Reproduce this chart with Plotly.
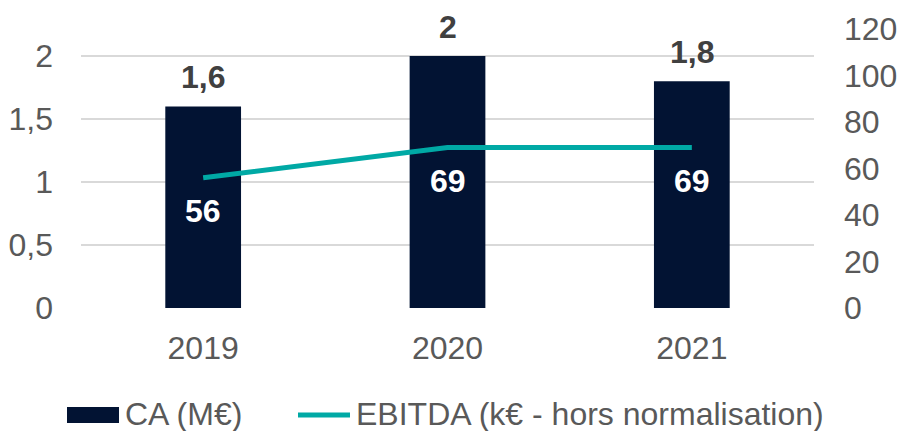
import plotly.graph_objects as go

years = ["2019", "2020", "2021"]
ca_values = [1.6, 2.0, 1.8]
ca_labels = ["1,6", "2", "1,8"]
ebitda_values = [56, 69, 69]
ebitda_labels = ["56", "69", "69"]
left_ticks = [0, 0.5, 1, 1.5, 2]
left_tick_text = ["0", "0,5", "1", "1,5", "2"]
right_ticks = [0, 20, 40, 60, 80, 100, 120]
ca_name = "CA (M€)"
ebitda_name = "EBITDA (k€ - hors normalisation)"

NAVY = "#021333"
TEAL = "#00A9A5"
GREY = "#595959"
FONT = "Liberation Sans, Arial, sans-serif"
FS = 32

W, H = 899, 431
# plot area in pixels
SX0, SX1, SY0, SY1 = 81, 814, 29, 308
L, R, T, B = SX0, W - SX1, SY0, H - SY1
PW, PH = SX1 - SX0, SY1 - SY0


def px(x):
    return (x - SX0) / PW


def py(y):
    return (SY1 - y) / PH


fig = go.Figure()
fig.add_trace(go.Bar(
    x=years, y=ca_values, name=ca_name,
    marker=dict(color=NAVY, line=dict(width=0)),
    width=0.31, yaxis="y", showlegend=False,
))
fig.add_trace(go.Scatter(
    x=years, y=ebitda_values, name=ebitda_name,
    mode="lines", line=dict(color=TEAL, width=5), yaxis="y2", showlegend=False,
))

annotations = []
for i, (v, t) in enumerate(zip(ca_values, ca_labels)):
    annotations.append(dict(x=i, y=v, xref="x", yref="y", text=f"<b>{t}</b>",
                            showarrow=False, yshift=29,
                            font=dict(family=FONT, size=FS, color="#404040")))
for i, (v, t) in enumerate(zip(ebitda_values, ebitda_labels)):
    annotations.append(dict(x=i, y=v, xref="x", yref="y2", text=f"<b>{t}</b>",
                            showarrow=False, yshift=-33,
                            font=dict(family=FONT, size=FS, color="white")))

# legend (drawn in paper space)
annotations.append(dict(x=px(123), y=py(414), xref="paper", yref="paper",
                        xanchor="left", yanchor="middle", text=ca_name, showarrow=False,
                        font=dict(family=FONT, size=FS, color=GREY)))
annotations.append(dict(x=px(354), y=py(414), xref="paper", yref="paper",
                        xanchor="left", yanchor="middle", text=ebitda_name, showarrow=False,
                        font=dict(family=FONT, size=FS, color=GREY)))
shapes = [
    dict(type="rect", xref="paper", yref="paper", x0=px(67), x1=px(119),
         y0=py(423), y1=py(407), fillcolor=NAVY, line=dict(width=0)),
    dict(type="line", xref="paper", yref="paper", x0=px(298), x1=px(350),
         y0=py(415), y1=py(415), line=dict(color=TEAL, width=5)),
]

fig.update_layout(
    width=W, height=H,
    margin=dict(l=L, r=R, t=T, b=B, autoexpand=False),
    paper_bgcolor="white", plot_bgcolor="white",
    font=dict(family=FONT, size=FS, color=GREY),
    xaxis=dict(type="category", range=[-0.5, 2.5], showgrid=False, showline=False,
               zeroline=False, ticks="", ticklabelstandoff=18, automargin=False,
               tickfont=dict(family=FONT, size=FS, color=GREY)),
    yaxis=dict(range=[0, 2.215], tickvals=left_ticks, ticktext=left_tick_text,
               showgrid=True, gridcolor="#D9D9D9", gridwidth=1.5, automargin=False,
               zeroline=False, showline=False, ticks="", ticklabelstandoff=27,
               tickfont=dict(family=FONT, size=FS, color=GREY)),
    yaxis2=dict(range=[0, 120], tickvals=right_ticks, overlaying="y", side="right",
                showgrid=False, zeroline=False, showline=False, ticks="",
                ticklabelstandoff=29, automargin=False,
                tickfont=dict(family=FONT, size=FS, color=GREY)),
    showlegend=False,
    annotations=annotations,
    shapes=shapes,
)

fig.write_html(
    "out.html",
    config={"displayModeBar": False},
    post_script="document.body.style.margin='0';document.body.style.overflow='hidden';",
)
